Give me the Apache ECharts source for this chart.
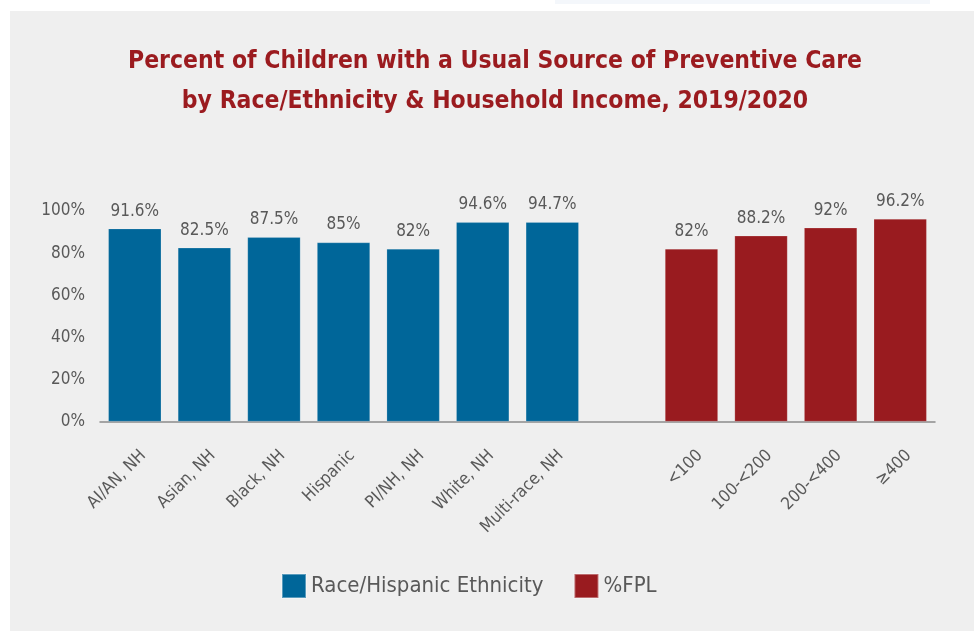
<!DOCTYPE html>
<html>
<head>
<meta charset="utf-8">
<script src="https://cdn.jsdelivr.net/npm/echarts@6/dist/echarts.min.js"></script>
<style>
  html, body { margin: 0; padding: 0; background: #ffffff; }
  #chart { width: 974px; height: 631px; }
</style>
</head>
<body>
<div id="chart"></div>
<script>
// Categories: race/ethnicity groups, an empty spacer slot, then income bands (%FPL)
const raceCategories = ['AI/AN, NH', 'Asian, NH', 'Black, NH', 'Hispanic', 'PI/NH, NH', 'White, NH', 'Multi-race, NH'];
const fplCategories = ['<100', '100-<200', '200-<400', '≥400'];
const raceValues = [91.6, 82.5, 87.5, 85, 82, 94.6, 94.7];
const fplValues = [82, 88.2, 92, 96.2];
const yTicks = [0, 20, 40, 60, 80, 100];

const seriesNames = ['Race/Hispanic Ethnicity', '%FPL'];
const colors = ['#006699', '#991b1f'];

const spacer = ' ';
const categories = raceCategories.concat([spacer], fplCategories);
const raceData = raceValues.concat(new Array(1 + fplCategories.length).fill('-'));
const fplData = new Array(raceCategories.length + 1).fill('-').concat(fplValues);

const FONT = '"Liberation Sans Narrow", "Arial Narrow", "DejaVu Sans Condensed", sans-serif';
const textGray = '#595959';

const chart = echarts.init(document.getElementById('chart'), null, { renderer: 'canvas' });

const labelCfg = {
  show: true,
  position: 'top',
  distance: 9,
  color: textGray,
  fontFamily: FONT,
  fontSize: 17,
  formatter: p => p.value + '%'
};

chart.setOption({
  backgroundColor: '#ffffff',
  animation: false,
  graphic: [
    { type: 'rect', left: 10, top: 11, shape: { width: 964, height: 620 }, style: { fill: '#efefef' }, z: -10 },
    { type: 'rect', left: 555, top: 0, shape: { width: 375, height: 4 }, style: { fill: '#f4f7fb' }, z: -10 }
  ],
  title: {
    text: 'Percent of Children with a Usual Source of Preventive Care\nby Race/Ethnicity & Household Income, 2019/2020',
    left: 490,
    textAlign: 'center',
    top: 37,
    textStyle: {
      color: '#9b1b1f',
      fontFamily: FONT,
      fontWeight: 'bold',
      fontSize: 24.5,
      lineHeight: 40
    }
  },
  legend: {
    data: seriesNames,
    bottom: 27,
    left: 276,
    itemWidth: 24,
    itemHeight: 24,
    itemGap: 30,
    icon: 'rect',
    textStyle: { color: textGray, fontFamily: FONT, fontSize: 22 }
  },
  grid: { left: 100, right: 39, top: 211, height: 210.5, containLabel: false },
  xAxis: {
    type: 'category',
    data: categories,
    axisLine: { show: true, lineStyle: { color: '#8c8c8c', width: 1.5 } },
    axisTick: { show: false },
    axisLabel: {
      interval: 0,
      rotate: 45,
      margin: 40,
      padding: [0, -12, 0, 0],
      color: textGray,
      fontFamily: FONT,
      fontSize: 17
    }
  },
  yAxis: {
    type: 'value',
    min: 0,
    max: 100,
    interval: 20,
    splitLine: { show: false },
    axisLine: { show: false },
    axisTick: { show: false },
    axisLabel: {
      margin: 15,
      color: textGray,
      fontFamily: FONT,
      fontSize: 17,
      formatter: v => (yTicks.indexOf(v) >= 0 ? v + '%' : '')
    }
  },
  series: [
    {
      name: seriesNames[0],
      type: 'bar',
      stack: 'all',
      barWidth: '76%',
      data: raceData,
      itemStyle: { color: colors[0], borderColor: 'rgba(255,255,255,0.35)', borderWidth: 0.5 },
      label: labelCfg
    },
    {
      name: seriesNames[1],
      type: 'bar',
      stack: 'all',
      barWidth: '76%',
      data: fplData,
      itemStyle: { color: colors[1], borderColor: 'rgba(255,255,255,0.35)', borderWidth: 0.5 },
      label: labelCfg
    }
  ]
});
</script>
</body>
</html>
